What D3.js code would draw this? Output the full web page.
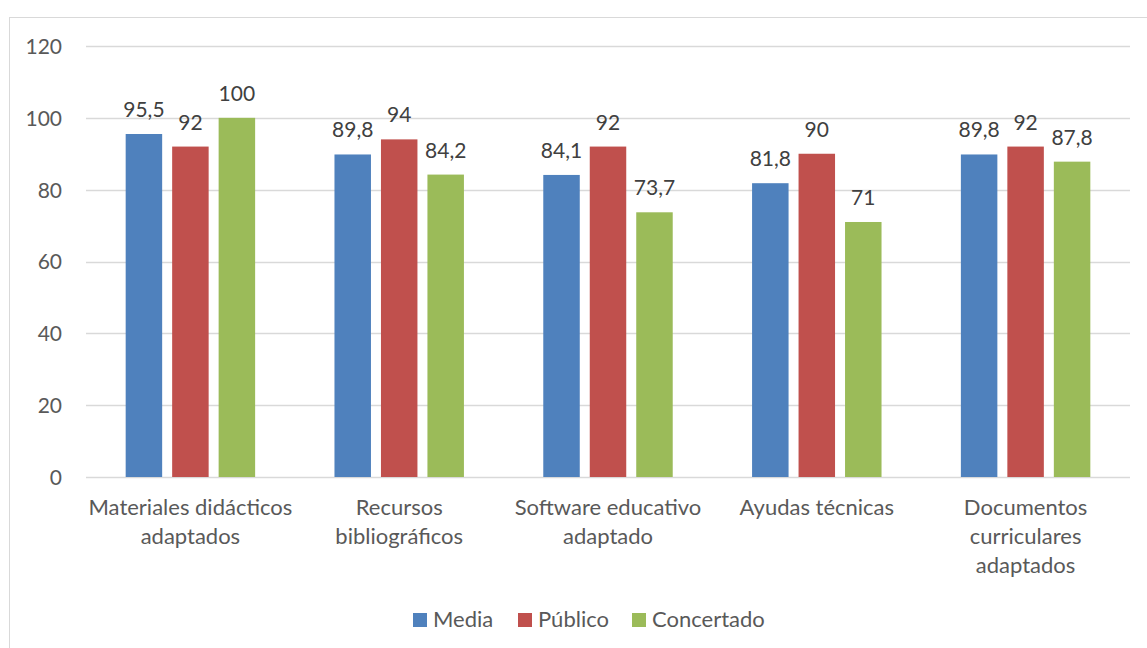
<!DOCTYPE html>
<html><head><meta charset="utf-8">
<script src="https://cdn.jsdelivr.net/npm/d3@7"></script>
<style>body{margin:0;background:#fff}svg{display:block}text{font-family:Lato,"Open Sans",sans-serif}</style>
</head><body>
<svg id="c" width="1147" height="648"></svg>
<script>
const categories = ["Materiales didácticos adaptados","Recursos bibliográficos","Software educativo adaptado","Ayudas técnicas","Documentos curriculares adaptados"];
const categoryLines = [["Materiales didácticos","adaptados"],["Recursos","bibliográficos"],["Software educativo","adaptado"],["Ayudas técnicas"],["Documentos","curriculares","adaptados"]];
const seriesNames = ["Media","Público","Concertado"];
const media = [95.5, 89.8, 84.1, 81.8, 89.8];
const publico = [92, 94, 92, 90, 92];
const concertado = [100, 84.2, 73.7, 71, 87.8];
const yTicks = [0,20,40,60,80,100,120];
const colors = ["#4f81bd","#c0504d","#9bbb59"];

const series = [media, publico, concertado];
const svg = d3.select("#c");
const fmt = v => String(v).replace(".", ",");

svg.append("rect").attr("x",9.5).attr("y",17.5).attr("width",1160).attr("height",660)
  .attr("fill","none").attr("stroke","#d9d9d9");

const pL=86, pR=1130, pT=46, pB=477;
const x = d3.scaleBand().domain(categories).range([pL,pR]).paddingInner(0.38).paddingOuter(0.19);
const y = d3.scaleLinear().domain([0,120]).range([pB,pT]);
const xs = d3.scaleBand().domain(seriesNames).range([0,x.bandwidth()]).paddingInner(0.215);

// gridlines
svg.append("g").selectAll("line").data(yTicks).join("line")
  .attr("x1",pL).attr("x2",pR).attr("y1",d=>Math.round(y(d))+0.5).attr("y2",d=>Math.round(y(d))+0.5)
  .attr("stroke","#d9d9d9").attr("stroke-width",1.3);

// y axis labels
const yAxis = d3.axisLeft(y).tickValues(yTicks).tickSize(0).tickPadding(0);
const ga = svg.append("g").attr("transform",`translate(${62},0)`).call(yAxis);
ga.select(".domain").remove();
ga.selectAll("text").attr("fill","#595959").style("font-size","21px").style("font-family","Lato").attr("dy","0.35em");

// bars
const groups = svg.append("g").selectAll("g").data(seriesNames).join("g").attr("fill",(d,i)=>colors[i]);
groups.selectAll("rect").data((s,i)=>categories.map((c,j)=>({c,s,v:series[i][j]}))).join("rect")
  .attr("x",d=>x(d.c)+xs(d.s)).attr("width",xs.bandwidth())
  .attr("y",d=>y(d.v)).attr("height",d=>y(0)-y(d.v));

// data labels
groups.selectAll("text").data((s,i)=>categories.map((c,j)=>({c,s,v:series[i][j]}))).join("text")
  .attr("x",d=>x(d.c)+xs(d.s)+xs.bandwidth()/2).attr("y",d=>y(d.v)-17)
  .attr("text-anchor","middle").attr("fill","#404040").style("font-size","21px")
  .text(d=>fmt(d.v));

// category labels
const cl = svg.append("g").selectAll("text").data(categories).join("text")
  .attr("text-anchor","middle").attr("fill","#595959").style("font-size","22px")
  .attr("transform",d=>`translate(${x(d)+x.bandwidth()/2},515)`);
cl.selectAll("tspan").data((d,i)=>categoryLines[i]).join("tspan")
  .attr("x",0).attr("y",(d,i)=>i*29).text(d=>d);

// legend
const legX = [413,518,632];
const lg = svg.append("g").selectAll("g").data(seriesNames).join("g")
  .attr("transform",(d,i)=>`translate(${legX[i]},613)`);
lg.append("rect").attr("width",14).attr("height",14).attr("fill",(d,i)=>colors[i]);
lg.append("text").attr("x",20).attr("y",14).attr("fill","#595959").style("font-size","22px").text(d=>d);
</script>
</body></html>
